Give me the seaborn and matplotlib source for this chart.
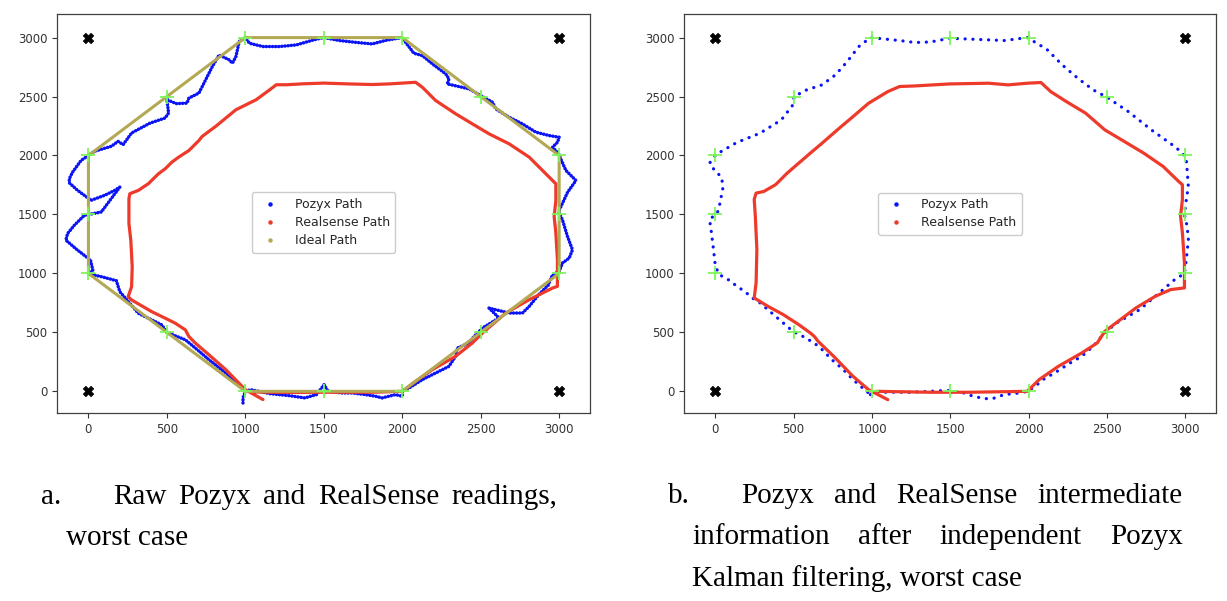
import pandas as pd
import seaborn as sns
import matplotlib.pyplot as plt
from matplotlib.lines import Line2D

# ---- data (mm) ----
anchor_x = [0, 0, 3000, 3000]
anchor_y = [0, 3000, 0, 3000]

waypoint_x = [0, 0, 0, 500, 1000, 1500, 2000, 2500, 3000, 3000, 3000, 2500, 2000, 1500, 1000, 500]
waypoint_y = [1000, 1500, 2000, 2500, 3000, 3000, 3000, 2500, 2000, 1500, 1000, 500, 0, 0, 0, 500]

ideal_x = [1000, 2000, 3000, 3000, 2000, 1000, 0, 0, 1000]
ideal_y = [0, 0, 1000, 2000, 3000, 3000, 2000, 1000, 0]

# a. raw Pozyx readings
pozyx_raw_x = [985, 985, 1000, 1034, 1158, 1281, 1379, 1453, 1502, 1527, 1617, 1681, 1766, 1830, 1872, 1915,
               1957, 2000, 2000, 2043, 2128, 2213, 2298, 2340, 2351, 2426, 2458, 2490, 2511, 2617, 2553, 2596,
               2681, 2766, 2809, 2870, 2930, 2958, 3000, 3021, 3064, 3085, 3053, 3021, 3000, 3000, 3054, 3107,
               3043, 2996, 2958, 2990, 3000, 2936, 2851, 2766, 2681, 2596, 2575, 2500, 2426, 2287, 2298, 2277,
               2192, 2128, 2074, 2053, 2021, 2000, 1900, 1809, 1700, 1600, 1498, 1434, 1326, 1219, 1112, 1026,
               1000, 961, 940, 918, 897, 833, 790, 725, 704, 640, 629, 560, 500, 496, 500, 511, 489, 393, 275,
               221, 189, 146, 39, 0, -47, -101, -122, -122, -69, 17, 103, 167, 200, 82, 0, -26, -90, -133, -144,
               -69, 13, 28, 0, 90, 178, 200, 318, 468, 500, 618, 682, 768, 876, 1000]
pozyx_raw_y = [-99, -56, 0, 14, -20, -37, -56, -28, 56, 0, -14, -14, -28, -42, -56, -42,
               -28, -42, 0, 28, 99, 155, 212, 297, 367, 410, 466, 508, 537, 622, 706, 692,
               664, 664, 720, 820, 900, 989, 1017, 1088, 1130, 1200, 1314, 1455, 1511, 1534, 1689, 1788,
               1873, 2014, 2071, 2113, 2155, 2169, 2198, 2268, 2325, 2395, 2452, 2508, 2565, 2607, 2650, 2692,
               2777, 2847, 2867, 2904, 2960, 3000, 2978, 2946, 2960, 2975, 3000, 2980, 2938, 2924, 2924, 2952,
               3000, 2966, 2839, 2783, 2811, 2853, 2755, 2585, 2529, 2487, 2444, 2440, 2473, 2501, 2473, 2360,
               2318, 2275, 2191, 2092, 2120, 2078, 2036, 2000, 1958, 1859, 1803, 1768, 1704, 1620, 1662, 1704,
               1732, 1521, 1499, 1493, 1408, 1338, 1282, 1197, 1113, 1028, 997, 970, 938, 845, 662, 563, 499,
               437, 366, 268, 155, 0]

realsense_a_x = [1112, 1000, 876, 768, 682, 640, 618, 554, 511, 403, 275, 253, 275, 279, 270, 258, 258, 264,
                 318, 382, 446, 489, 532, 575, 640, 704, 725, 811, 940, 1069, 1155, 1197, 1262, 1369, 1498,
                 1660, 1809, 1915, 2085, 2128, 2213, 2341, 2447, 2553, 2681, 2809, 2894, 2979, 2979, 2968,
                 2979, 2989, 2989, 2958, 2809, 2660, 2511, 2447, 2340, 2192, 2085, 2021, 2000, 1809, 1596,
                 1489, 1250, 1040]
realsense_a_y = [-70, 14, 183, 310, 408, 465, 521, 577, 606, 676, 775, 803, 887, 1056, 1282, 1423, 1634, 1676,
                 1704, 1761, 1845, 1887, 1944, 1986, 2042, 2127, 2162, 2247, 2388, 2473, 2557, 2600, 2600, 2608,
                 2614, 2607, 2602, 2607, 2621, 2579, 2466, 2353, 2268, 2184, 2099, 1986, 1873, 1760, 1619, 1483,
                 1342, 1116, 890, 876, 777, 664, 494, 410, 297, 184, 85, 20, 0, -8, -8, -8, -10, -5]

# b. Kalman-filtered Pozyx
pozyx_kf_x = [990, 1027, 1126, 1250, 1374, 1473, 1572, 1646, 1720, 1770, 1844, 1943, 1992, 2042, 2091, 2166,
              2265, 2339, 2413, 2475, 2512, 2562, 2636, 2710, 2784, 2859, 2933, 2995, 3007, 3020, 3012, 2995,
              3007, 3020, 3007, 2982, 2933, 2784, 2636, 2500, 2413, 2314, 2215, 2116, 1992, 1844, 1646, 1497,
              1374, 1275, 1176, 990, 916, 842, 767, 681, 582, 502, 495, 421, 285, 136, 37, 0, -37, 0, 37, 50,
              25, 12, 0, -37, -25, -12, 0, 25, 99, 136, 186, 235, 285, 359, 433, 495, 557, 631, 681, 743, 817,
              879, 953, 990]
pozyx_kf_y = [-28, -8, -8, -8, 0, 8, -8, -42, -62, -62, -28, -14, 0, 42, 99, 156,
              240, 297, 382, 481, 524, 580, 637, 693, 778, 863, 948, 999, 1118, 1288, 1401, 1500,
              1627, 1737, 1963, 2020, 2076, 2217, 2373, 2494, 2556, 2655, 2768, 2901, 3000, 2975, 2986, 2994,
              2963, 2958, 2975, 3000, 2924, 2797, 2684, 2599, 2556, 2500, 2429, 2302, 2189, 2110, 2034, 2000,
              1935, 1864, 1822, 1737, 1568, 1511, 1500, 1457, 1344, 1203, 1061, 990, 934, 891, 849, 792, 750,
              665, 580, 509, 467, 410, 354, 269, 184, 99, 14, -28]

realsense_b_x = [1101, 978, 879, 755, 656, 631, 606, 532, 433, 334, 248, 260, 265, 255, 248, 260, 309, 384,
                 458, 532, 606, 681, 730, 804, 879, 978, 1101, 1176, 1275, 1497, 1745, 1869, 1992, 2079, 2141,
                 2240, 2364, 2487, 2611, 2735, 2859, 2958, 2982, 2982, 2970, 2982, 2995, 2995, 2908, 2809,
                 2685, 2586, 2487, 2438, 2339, 2190, 2067, 1992, 1621, 1374, 1027]
realsense_b_y = [-71, 14, 127, 297, 424, 467, 495, 566, 651, 722, 792, 920, 1203, 1486, 1627, 1681, 1695, 1752,
                 1850, 1935, 2020, 2104, 2161, 2246, 2330, 2443, 2542, 2585, 2590, 2607, 2613, 2599, 2613, 2619,
                 2542, 2458, 2359, 2217, 2119, 2020, 1907, 1780, 1752, 1624, 1486, 1344, 1090, 877, 863, 806,
                 707, 608, 509, 410, 325, 212, 99, 0, -8, -8, 0]

ticks = [0, 500, 1000, 1500, 2000, 2500, 3000]

caption_a = [("a.", ["Raw", "Pozyx", "and", "RealSense", "readings,"]), ("", ["worst case"])]
caption_b = [("b.", ["Pozyx", "and", "RealSense", "intermediate"]),
             ("", ["information", "after", "independent", "Pozyx"]),
             ("", ["Kalman filtering, worst case"])]

BLUE = "#0a14f5"
RED = "#ee3a2a"
OLIVE = "#b3a955"
GREEN = "#7cf55a"

sns.set_style("ticks")
plt.rcParams["font.family"] = ["DejaVu Sans"]

fig = plt.figure(figsize=(12.27, 6.01), dpi=100)
ax_a = fig.add_axes([0.0465, 0.312, 0.4344, 0.6647])
ax_b = fig.add_axes([0.5575, 0.312, 0.4336, 0.6647])


def draw_panel(ax, px, py, rx, ry, pozyx_dash, pozyx_lw, show_ideal, legend_y):
    pozyx = pd.DataFrame({"x": px, "y": py})
    real = pd.DataFrame({"x": rx, "y": ry})
    sns.lineplot(data=pozyx, x="x", y="y", sort=False, estimator=None, ax=ax,
                 color=BLUE, lw=pozyx_lw, linestyle=pozyx_dash, dash_capstyle="round", zorder=2)
    sns.lineplot(data=real, x="x", y="y", sort=False, estimator=None, ax=ax,
                 color=RED, lw=2.3, solid_capstyle="round", solid_joinstyle="round", zorder=3)
    handles = [Line2D([], [], ls="", marker="o", ms=2.2, color=BLUE, label="Pozyx Path"),
               Line2D([], [], ls="", marker="o", ms=2.2, color=RED, label="Realsense Path")]
    if show_ideal:
        ideal = pd.DataFrame({"x": ideal_x, "y": ideal_y})
        sns.lineplot(data=ideal, x="x", y="y", sort=False, estimator=None, ax=ax,
                     color=OLIVE, lw=2.2, zorder=4)
        handles.append(Line2D([], [], ls="", marker="o", ms=2.2, color=OLIVE, label="Ideal Path"))
    sns.scatterplot(x=waypoint_x, y=waypoint_y, ax=ax, marker="+", s=110, color=GREEN,
                    linewidth=1.3, zorder=5)
    sns.scatterplot(x=anchor_x, y=anchor_y, ax=ax, marker="X", s=55, color="black",
                    edgecolor="black", zorder=5)
    ax.set_xlim(-200, 3197)
    ax.set_ylim(-188, 3200)
    ax.set_xticks(ticks)
    ax.set_yticks(ticks)
    ax.tick_params(labelsize=8.5, length=3.5, width=0.8, colors=".2")
    for s in ax.spines.values():
        s.set_color(".25")
        s.set_linewidth(0.9)
    ax.set_xlabel("")
    ax.set_ylabel("")
    ax.legend(handles=handles, loc="center", bbox_to_anchor=(0.5, legend_y), fontsize=9,
              handletextpad=1.0, borderpad=0.45, labelspacing=0.4, framealpha=1,
              edgecolor="#cccccc")


draw_panel(ax_a, pozyx_raw_x, pozyx_raw_y, realsense_a_x, realsense_a_y,
           (0, (0.05, 0.85)), 2.5, True, 0.478)
draw_panel(ax_b, pozyx_kf_x, pozyx_kf_y, realsense_b_x, realsense_b_y,
           (0, (0.05, 2.4)), 2.3, False, 0.5)

# ---- justified captions ----
renderer = fig.canvas.get_renderer()
W, H = 1227, 601
serif = dict(family="Liberation Serif", size=21, color="black", va="baseline")


def caption(lines, lead_x, body_x, first_x, right_x, base_y, step):
    for i, (lead, words) in enumerate(lines):
        y = 1 - (base_y + i * step) / H
        if lead:
            fig.text(lead_x / W, y, lead, **serif)
        x0 = first_x if lead else body_x
        last = i == len(lines) - 1
        texts = [fig.text(0, y, w, **serif) for w in words]
        widths = [t.get_window_extent(renderer).width for t in texts]
        if last or len(words) == 1:
            gap = 0.26 * 29
        else:
            gap = (right_x - x0 - sum(widths)) / (len(words) - 1)
        x = x0
        for t, w in zip(texts, widths):
            t.set_x(x / W)
            x += w + gap


caption(caption_a, 41, 66, 113, 557, 504, 41)
caption(caption_b, 668, 692, 741, 1183, 503, 41.5)

fig.savefig("out.png", dpi=100)
